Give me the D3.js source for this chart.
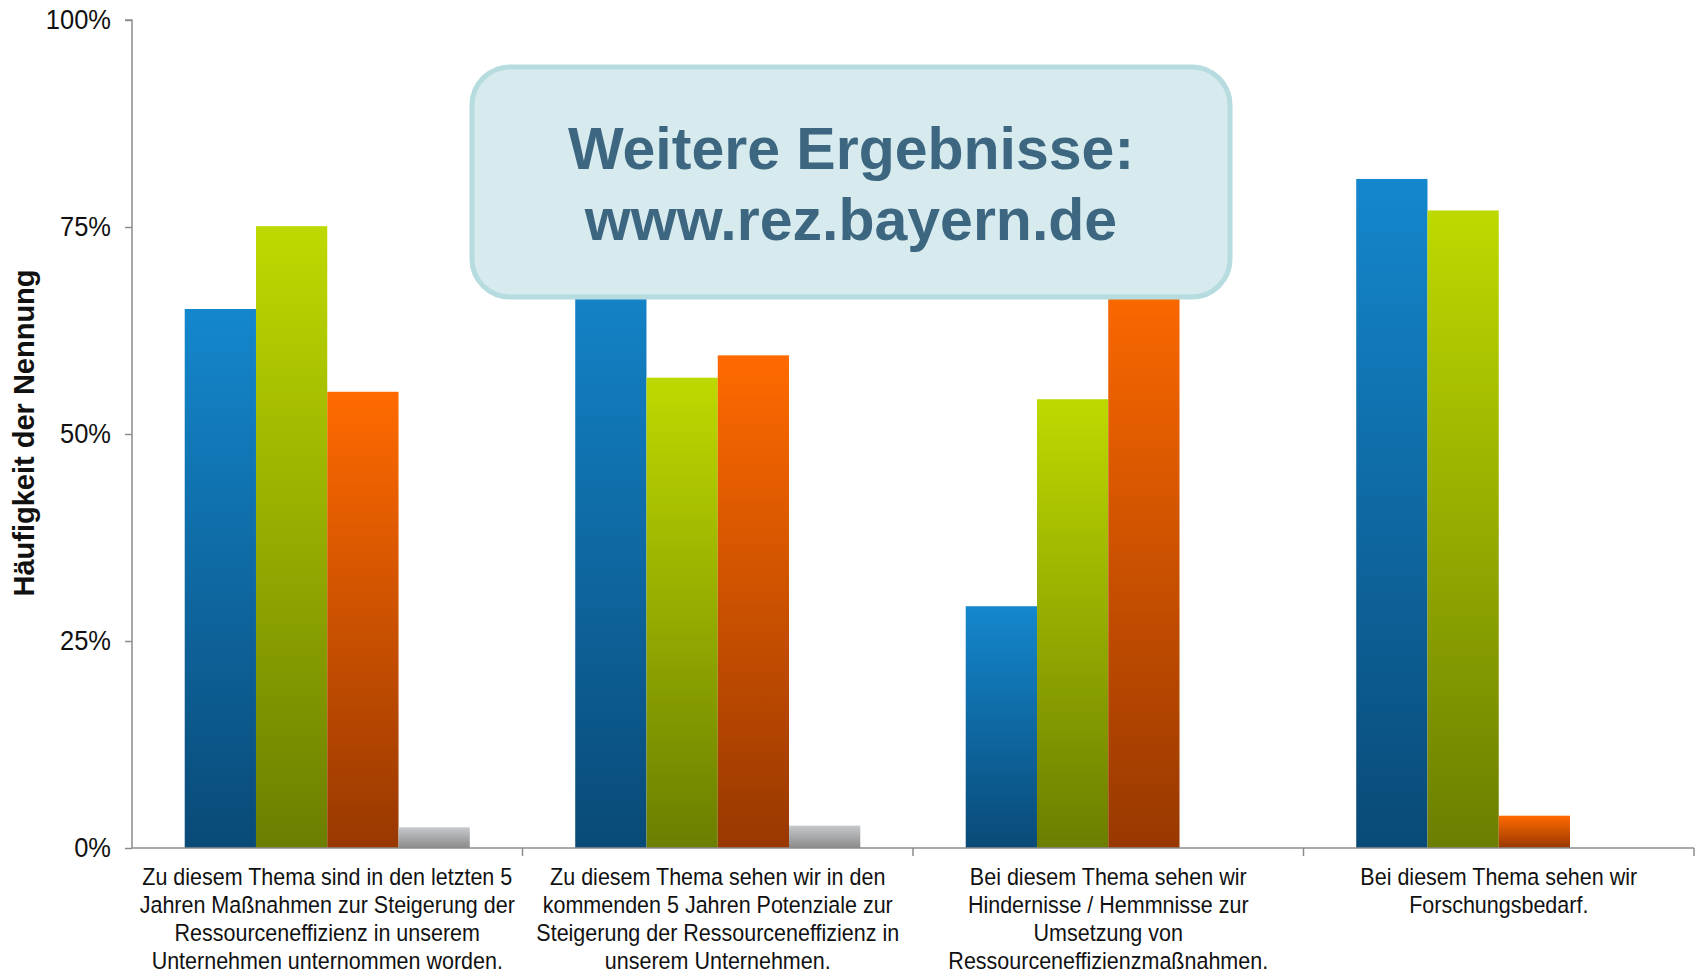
<!DOCTYPE html>
<html>
<head>
<meta charset="utf-8">
<script src="https://cdn.jsdelivr.net/npm/d3@7"></script>
<style>
  html, body { margin: 0; padding: 0; background: #ffffff; }
  svg { display: block; font-family: "Liberation Sans", Arial, sans-serif; }
</style>
</head>
<body>
<svg id="chart" width="1696" height="974"></svg>
<script>
// ---- data ----
const categories = ["c1", "c2", "c3", "c4"];
const categoryLabels = [
  ["Zu diesem Thema sind in den letzten 5", "Jahren Maßnahmen zur Steigerung der", "Ressourceneffizienz in unserem", "Unternehmen unternommen worden."],
  ["Zu diesem Thema sehen wir in den", "kommenden 5 Jahren Potenziale zur", "Steigerung der Ressourceneffizienz in", "unserem Unternehmen."],
  ["Bei diesem Thema sehen wir", "Hindernisse / Hemmnisse zur", "Umsetzung von", "Ressourceneffizienzmaßnahmen."],
  ["Bei diesem Thema sehen wir", "Forschungsbedarf."]
];
const seriesNames = ["Serie 1", "Serie 2", "Serie 3", "Serie 4"];
const seriesBlue   = [65.1, 72.0, 29.2, 80.8];
const seriesGreen  = [75.1, 56.8, 54.2, 77.0];
const seriesOrange = [55.1, 59.5, 70.0, 3.9];
const seriesGray   = [2.5, 2.7, 0, 0];
const yTicks = [0, 25, 50, 75, 100];
const yTitle = "Häufigkeit der Nennung";
const boxLines = ["Weitere Ergebnisse:", "www.rez.bayern.de"];

const seriesValues = [seriesBlue, seriesGreen, seriesOrange, seriesGray];
const gradients = [
  ["#1487cd", "#094a77"],
  ["#bed900", "#6c7e00"],
  ["#ff6a00", "#983800"],
  ["#c6c9cc", "#8a8a8a"]
];

// ---- layout ----
const svg = d3.select("#chart");
const mLeft = 132, mRight = 1694, mTop = 20, mBottom = 848;

const x0 = d3.scaleBand().domain(categories).range([mLeft, mRight]).padding(0);
const gap = x0.bandwidth() * 0.135;
const x1 = d3.scaleBand().domain(seriesNames).range([gap, x0.bandwidth() - gap]).padding(0);
const y = d3.scaleLinear().domain([0, 100]).range([mBottom, mTop]);

// gradients
const defs = svg.append("defs");
gradients.forEach((g, i) => {
  const lg = defs.append("linearGradient").attr("id", "grad" + i)
    .attr("x1", 0).attr("y1", 0).attr("x2", 0).attr("y2", 1);
  lg.append("stop").attr("offset", "0%").attr("stop-color", g[0]);
  lg.append("stop").attr("offset", "100%").attr("stop-color", g[1]);
});

// bars
const groups = svg.append("g").selectAll("g")
  .data(categories)
  .join("g")
  .attr("transform", d => `translate(${x0(d)},0)`);

groups.selectAll("rect")
  .data((c, ci) => seriesNames.map((s, si) => ({ s, si, v: seriesValues[si][ci] })).filter(d => d.v > 0))
  .join("rect")
  .attr("x", d => x1(d.s))
  .attr("width", x1.bandwidth())
  .attr("y", d => y(d.v))
  .attr("height", d => y(0) - y(d.v))
  .attr("fill", d => `url(#grad${d.si})`);

// y axis
const yAxis = d3.axisLeft(y).tickValues(yTicks).tickFormat(d => d + "%").tickSize(7).tickPadding(14);
const yg = svg.append("g").attr("transform", `translate(${mLeft},0)`).call(yAxis);
yg.select(".domain").attr("stroke", "#8c8c8c").attr("stroke-width", 1.5).attr("d", `M-7,${mTop}H0V${mBottom}`);
yg.selectAll(".tick line").attr("stroke", "#8c8c8c").attr("stroke-width", 1.5);
yg.selectAll(".tick text")
  .attr("font-size", 25.5)
  .attr("fill", "#111")
  .attr("font-family", "Liberation Sans, Arial, sans-serif")
  .attr("transform", "scale(1,1.08)");

// x axis
const xAxis = d3.axisBottom(x0).tickSize(0).tickFormat("");
const xg = svg.append("g").attr("transform", `translate(0,${mBottom})`).call(xAxis);
xg.select(".domain").attr("stroke", "#8c8c8c").attr("stroke-width", 1.5).attr("d", `M${mLeft},0H${mRight}`);
const sepPositions = categories.map(c => x0(c) + x0.bandwidth());
xg.selectAll(".sep").data(sepPositions).join("line")
  .attr("class", "sep")
  .attr("x1", d => d).attr("x2", d => d)
  .attr("y1", 0).attr("y2", 8)
  .attr("stroke", "#8c8c8c").attr("stroke-width", 1.5);

// category labels (slightly stretched vertically like the original)
const labG = svg.append("g");
const stretch = 1.1;
categories.forEach((c, i) => {
  const cx = x0(c) + x0.bandwidth() / 2;
  const t = labG.append("text")
    .attr("transform", `translate(${cx},885) scale(1,${stretch})`)
    .attr("text-anchor", "middle")
    .attr("font-size", 21.5)
    .attr("fill", "#111");
  categoryLabels[i].forEach((line, li) => {
    t.append("tspan").attr("x", 0).attr("y", li * 28 / stretch).text(line);
  });
});

// y title
svg.append("text")
  .attr("transform", `translate(34,433) rotate(-90)`)
  .attr("text-anchor", "middle")
  .attr("font-size", 29)
  .attr("font-weight", "bold")
  .attr("fill", "#111")
  .text(yTitle);

// overlay box
const box = svg.append("g");
box.append("rect")
  .attr("x", 472).attr("y", 67).attr("width", 758).attr("height", 230)
  .attr("rx", 38).attr("ry", 38)
  .attr("fill", "#d7ebee")
  .attr("stroke", "#b6dcdf").attr("stroke-width", 5);
box.selectAll("text.boxline").data(boxLines).join("text")
  .attr("class", "boxline")
  .attr("x", 851)
  .attr("y", (d, i) => 169 + i * 71)
  .attr("text-anchor", "middle")
  .attr("font-size", 59)
  .attr("font-weight", "bold")
  .attr("fill", "#3d6680")
  .text(d => d);
</script>
</body>
</html>
